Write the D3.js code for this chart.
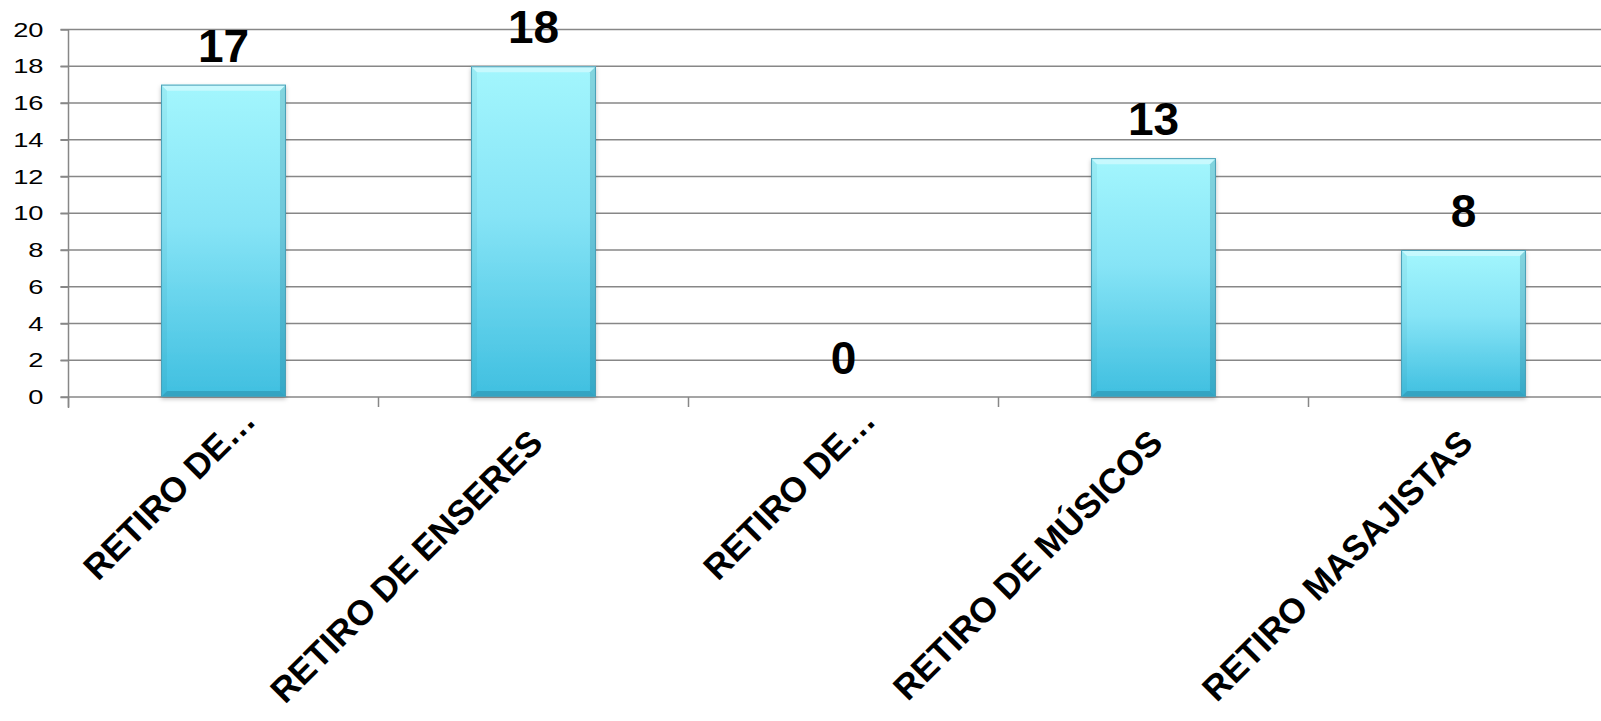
<!DOCTYPE html>
<html>
<head>
<meta charset="utf-8">
<script src="https://cdn.jsdelivr.net/npm/d3@7"></script>
<style>
  html, body { margin: 0; padding: 0; background: #ffffff; overflow: hidden; }
  svg { display: block; }
  text { font-family: "Liberation Sans", Arial, sans-serif; }
</style>
</head>
<body>
<svg id="chart" width="1601" height="721"></svg>
<script>
const categories = ["RETIRO DE…", "RETIRO DE ENSERES", "RETIRO DE…", "RETIRO DE MÚSICOS", "RETIRO MASAJISTAS"];
const values = [17, 18, 0, 13, 8];
const yTicks = [0, 2, 4, 6, 8, 10, 12, 14, 16, 18, 20];

const W = 1601, H = 721;
const plot = { left: 68.5, top: 29.5, bottom: 397, step: 310 };
const svg = d3.select("#chart");

const x = d3.scaleBand()
  .domain(d3.range(categories.length))
  .range([plot.left, plot.left + plot.step * categories.length])
  .paddingInner(0.597)
  .paddingOuter(0.597 / 2);

const y = d3.scaleLinear().domain([0, 20]).range([plot.bottom, plot.top]);

// defs: gradient
const defs = svg.append("defs");
const grad = defs.append("linearGradient").attr("id", "barGrad")
  .attr("x1", 0).attr("y1", 0).attr("x2", 0).attr("y2", 1);
grad.append("stop").attr("offset", "0%").attr("stop-color", "#a3f6fd");
grad.append("stop").attr("offset", "45%").attr("stop-color", "#86e4f6");
grad.append("stop").attr("offset", "100%").attr("stop-color", "#3fbfe0");

const shadow = defs.append("filter").attr("id", "shadow")
  .attr("x", "-10%").attr("y", "-10%").attr("width", "120%").attr("height", "120%");
shadow.append("feDropShadow").attr("dx", 0).attr("dy", 2).attr("stdDeviation", 2)
  .attr("flood-color", "#000").attr("flood-opacity", 0.25);

// gridlines
svg.append("g")
  .selectAll("line")
  .data(yTicks)
  .join("line")
  .attr("x1", plot.left - 8).attr("x2", W)
  .attr("y1", d => y(d)).attr("y2", d => y(d))
  .attr("stroke", "#878787").attr("stroke-width", 1.5);

// y axis
const yAxis = svg.append("g")
  .attr("transform", `translate(${plot.left},0)`)
  .call(d3.axisLeft(y).tickValues(yTicks).tickSize(8).tickPadding(15));
yAxis.select(".domain").attr("stroke", "#878787").attr("stroke-width", 1.5)
  .attr("d", `M0,${plot.top}V${plot.bottom + 11}`);
yAxis.selectAll(".tick line").attr("stroke", "#878787").attr("stroke-width", 1.5);
const labelStretch = 1.3;
yAxis.selectAll(".tick text")
  .attr("font-size", 21).attr("fill", "#000")
  .attr("x", -25 / labelStretch)
  .attr("transform", `scale(${labelStretch},1)`)
  .style("font-family", "'Liberation Sans', Arial, sans-serif");

// x axis ticks at band boundaries
const boundaries = d3.range(categories.length + 1).map(i => plot.left + i * x.step());
svg.append("g").selectAll("line")
  .data(boundaries)
  .join("line")
  .attr("x1", d => d).attr("x2", d => d)
  .attr("y1", plot.bottom).attr("y2", plot.bottom + 10)
  .attr("stroke", "#878787").attr("stroke-width", 1.5);

// bars
const bev = 6;
const bars = svg.append("g").selectAll("g.bar")
  .data(values.map((v, i) => ({ v, i })).filter(d => d.v > 0))
  .join("g").attr("class", "bar");

bars.append("rect")
  .attr("x", d => x(d.i)).attr("y", d => y(d.v))
  .attr("width", x.bandwidth()).attr("height", d => y(0) - y(d.v))
  .attr("fill", "url(#barGrad)")
  .attr("filter", "url(#shadow)");

// bevel facets
function facet(d, side) {
  const x0 = x(d.i), x1 = x0 + x.bandwidth(), y0 = y(d.v), y1 = y(0);
  const b = bev;
  if (side === "top") return [[x0, y0], [x1, y0], [x1 - b, y0 + b], [x0 + b, y0 + b]];
  if (side === "left") return [[x0, y0], [x0 + b, y0 + b], [x0 + b, y1 - b], [x0, y1]];
  if (side === "right") return [[x1, y0], [x1, y1], [x1 - b, y1 - b], [x1 - b, y0 + b]];
  return [[x0, y1], [x0 + b, y1 - b], [x1 - b, y1 - b], [x1, y1]];
}
const facetStyle = {
  top: ["#ffffff", 0.4],
  left: ["#0a4f66", 0.06],
  right: ["#0a4f66", 0.2],
  bottom: ["#0a4f66", 0.25]
};
["top", "left", "right", "bottom"].forEach(side => {
  bars.append("polygon")
    .attr("points", d => facet(d, side).map(p => p.join(",")).join(" "))
    .attr("fill", facetStyle[side][0])
    .attr("fill-opacity", facetStyle[side][1]);
});
bars.append("rect")
  .attr("x", d => x(d.i) + 0.5).attr("y", d => y(d.v) + 0.5)
  .attr("width", x.bandwidth() - 1).attr("height", d => y(0) - y(d.v) - 1)
  .attr("fill", "none").attr("stroke", "#4b9fb6").attr("stroke-width", 1);

// value labels
svg.append("g").selectAll("text")
  .data(values)
  .join("text")
  .attr("x", (d, i) => x(i) + x.bandwidth() / 2)
  .attr("y", d => y(d) - 23)
  .attr("text-anchor", "middle")
  .attr("font-size", 46).attr("font-weight", "bold").attr("fill", "#000")
  .text(d => d);

// category labels
svg.append("g").selectAll("text")
  .data(categories)
  .join("text")
  .attr("transform", (d, i) => `translate(${x(i) + x.bandwidth() / 2},${plot.bottom}) rotate(-45)`)
  .attr("x", d => d.endsWith("…") ? 6 : -26)
  .attr("y", 42)
  .attr("text-anchor", "end")
  .attr("font-size", 35).attr("font-weight", "bold").attr("fill", "#000")
  .text(d => d);
</script>
</body>
</html>
